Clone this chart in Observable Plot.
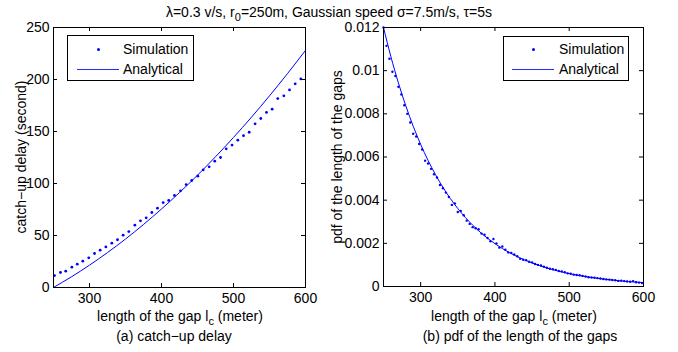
<!DOCTYPE html>
<html>
<head>
<meta charset="utf-8">
<script src="https://cdn.jsdelivr.net/npm/d3@7"></script>
<script src="https://cdn.jsdelivr.net/npm/@observablehq/plot@0.6"></script>
<style>
  html, body { margin: 0; padding: 0; background: #fff; }
  #wrap { position: relative; width: 678px; height: 352px; font-family: "Liberation Sans", Arial, Helvetica, sans-serif; font-size: 14px; color: #000; overflow: hidden; }
  .abs { position: absolute; white-space: nowrap; line-height: 16px; }
  .sub { position: relative; top: 4px; font-size: 11px; line-height: 10px; }
  .legend { position: absolute; border: 1px solid #000; background: #fff; box-sizing: border-box; }
  .legend .dot { position: absolute; width: 3px; height: 3px; border-radius: 50%; background: #0000ff; }
  .legend .ln { position: absolute; height: 0; border-top: 1px solid #2a2aff; }
  .legend .tx { position: absolute; line-height: 16px; white-space: nowrap; }
</style>
</head>
<body>
<div id="wrap">
  <div id="left" style="position:absolute;left:0;top:0"></div>
  <div id="right" style="position:absolute;left:340px;top:0"></div>

  <div class="abs" style="left:0;top:4px;width:658px;text-align:center">λ=0.3 v/s, r<span class="sub">0</span>=250m, Gaussian speed σ=7.5m/s, τ=5s</div>

  <div class="abs" style="left:21px;top:157px;transform:translate(-50%,-50%) rotate(-90deg)">catch−up delay (second)</div>
  <div class="abs" style="left:337px;top:157px;transform:translate(-50%,-50%) rotate(-90deg)">pdf of the length of the gaps</div>

  <div class="abs" style="left:180px;top:316px;transform:translate(-50%,-50%)">length of the gap l<span class="sub">c</span> (meter)</div>
  <div class="abs" style="left:514px;top:316px;transform:translate(-50%,-50%)">length of the gap l<span class="sub">c</span> (meter)</div>

  <div class="abs" style="left:174px;top:336px;transform:translate(-50%,-50%)">(a) catch−up delay</div>
  <div class="abs" style="left:520px;top:336px;transform:translate(-50%,-50%)">(b) pdf of the length of the gaps</div>

  <div class="legend" style="left:67px;top:35px;width:127px;height:46px">
    <div class="dot" style="left:29px;top:11.5px"></div>
    <div class="tx" style="left:55px;top:5px">Simulation</div>
    <div class="ln" style="left:9px;top:33px;width:42px"></div>
    <div class="tx" style="left:55px;top:25px">Analytical</div>
  </div>
  <div class="legend" style="left:503px;top:36px;width:126px;height:45px">
    <div class="dot" style="left:28px;top:10.5px"></div>
    <div class="tx" style="left:55px;top:4px">Simulation</div>
    <div class="ln" style="left:8px;top:32px;width:42px"></div>
    <div class="tx" style="left:55px;top:24px">Analytical</div>
  </div>
</div>
<script>
// ---------- data: (a) catch-up delay ----------
const leftSimX = [251.4,259.7,267,275.5,283,290.7,299,307,314.8,322.7,331,338.9,346.7,354.6,363,370.8,378.7,386.6,394.4,402.3,410,418,426.4,434.3,442,450.5,457.9,466.2,474,482,489.9,498,506,513.9,521.8,530,537.9,545.8,553.7,561.5,569.9,577.8,585.7,593.5];
const leftSimY = [11.5,14.4,15.7,19.5,22.4,25.3,28.5,32.7,35.9,39,42.6,45.9,50.3,53.8,59.9,64.1,67,72.1,76.3,81.7,83.7,88.5,93,99,102.9,107,113.1,116,121.5,125,133.3,136.9,141.7,146,149.3,157.4,162.5,168.3,171.5,181.7,184.3,190,195.8,200.6];
const leftAnaX = [250,275,300,325,350,375,400,425,450,475,500,525,550,575,600];
const leftAnaY = [0,10.3,21.5,33.6,46.6,60.6,75.5,91.3,108,125.7,144.3,163.8,184.3,205.7,228];
const leftXTicks = [300,400,500,600];
const leftYTicks = [0,50,100,150,200,250];

// ---------- data: (b) pdf of gap length ----------
const rightSimX = [250,254,258,262,266,270,274,278,282,286,
  290,294,298,302,306,310,314,318,322,326,
  330,334,338,342,346,350,354,358,362,366,
  370,374,378,382,386,390,394,398,402,406,
  410,414,418,422,426,430,434,438,442,446,
  450,454,458,462,466,470,474,478,482,486,
  490,494,498,502,506,510,514,518,522,526,
  530,534,538,542,546,550,554,558,562,566,
  570,574,578,582,586,590,594,598];
const rightSimY = [0.01200,0.01115,0.01055,0.00995,0.00975,0.00925,0.00890,0.00840,0.00800,0.00760,
  0.00708,0.00695,0.00660,0.00635,0.00583,0.00570,0.00545,0.00520,0.00505,0.00470,
  0.00455,0.00435,0.00415,0.00378,0.00385,0.00345,0.00350,0.00330,0.00305,0.00290,
  0.00275,0.00270,0.00265,0.00245,0.00240,0.00225,0.00210,0.00220,0.00200,0.00180,
  0.00185,0.00170,0.00158,0.00156,0.00148,0.00140,0.00128,0.00124,0.00122,0.00115,
  0.00112,0.00104,0.00100,0.00097,0.00092,0.00087,0.00082,0.00080,0.00077,0.00072,
  0.00070,0.00066,0.00061,0.00059,0.00055,0.00053,0.00052,0.00049,0.00046,0.00043,
  0.00042,0.00041,0.00039,0.00037,0.00035,0.00033,0.00032,0.00030,0.00029,0.00026,
  0.00027,0.00025,0.00023,0.00022,0.00025,0.00020,0.00018,0.00016];
const rightAnaX = [250,260,270,280,290,300,310,320,330,340,350,360,370,380,390,400,410,420,430,440,450,460,470,480,490,500,510,520,530,540,550,560,570,580,590,600];
const rightAnaY = [0.012000,0.010643,0.009440,0.008372,0.007426,0.006586,0.005841,0.005181,0.004595,0.004075,
  0.003614,0.003206,0.002843,0.002522,0.002236,0.001984,0.001759,0.001560,0.001384,0.001228,
  0.001089,0.000966,0.000856,0.000760,0.000674,0.000598,0.000530,0.000470,0.000417,0.000370,
  0.000328,0.000291,0.000258,0.000229,0.000203,0.000180];
const rightXTicks = [300,400,500,600];
const rightYTicks = [0,0.002,0.004,0.006,0.008,0.01,0.012];

const blue = "#0000ff";
const font = '"Liberation Sans", Arial, Helvetica, sans-serif';

function panel({width, height, mL, mR, mT, mB, xDomain, yDomain, simX, simY, anaX, anaY, xTicks, yTicks, r, yFormat}) {
  const iw = width - mL - mR, ih = height - mT - mB;
  const sim = simX.map((x, i) => ({x, y: simY[i]}));
  const ana = anaX.map((x, i) => ({x, y: anaY[i]}));
  return Plot.plot({
    width, height, marginLeft: mL, marginRight: mR, marginTop: mT, marginBottom: mB,
    style: {fontFamily: font, fontSize: "14px", background: "transparent", color: "#000", overflow: "visible"},
    x: {domain: xDomain},
    y: {domain: yDomain},
    marks: [
      Plot.line(ana, {x: "x", y: "y", stroke: blue, strokeWidth: 1, curve: "natural"}),
      Plot.dot(sim, {x: "x", y: "y", r, fill: blue, stroke: "none"}),
      Plot.frame({stroke: "#000", strokeWidth: 1}),
      Plot.axisX({ticks: xTicks, tickSize: 0, tickPadding: 6, label: null, fontSize: 14, tickFormat: d => String(d)}),
      Plot.axisY({ticks: yTicks, tickSize: 0, tickPadding: 4, label: null, fontSize: 14, tickFormat: yFormat}),
      Plot.tickX(xTicks, {x: d => d, insetTop: ih - 4, stroke: "#000"}),
      Plot.tickX(xTicks, {x: d => d, insetBottom: ih - 4, stroke: "#000"}),
      Plot.tickY(yTicks, {y: d => d, insetRight: iw - 4, stroke: "#000"}),
      Plot.tickY(yTicks, {y: d => d, insetLeft: iw - 4, stroke: "#000"})
    ]
  });
}

document.getElementById("left").appendChild(panel({
  width: 340, height: 352, mL: 53, mR: 35, mT: 27, mB: 65,
  xDomain: [250, 600], yDomain: [0, 250],
  simX: leftSimX, simY: leftSimY, anaX: leftAnaX, anaY: leftAnaY,
  xTicks: leftXTicks, yTicks: leftYTicks, r: 1.4, yFormat: d => String(d)
}));

document.getElementById("right").appendChild(panel({
  width: 338, height: 352, mL: 43, mR: 35, mT: 27, mB: 66,
  xDomain: [250, 600], yDomain: [0, 0.012],
  simX: rightSimX, simY: rightSimY, anaX: rightAnaX, anaY: rightAnaY,
  xTicks: rightXTicks, yTicks: rightYTicks, r: 1.2, yFormat: d => d === 0 ? "0" : String(d)
}));
</script>
</body>
</html>
